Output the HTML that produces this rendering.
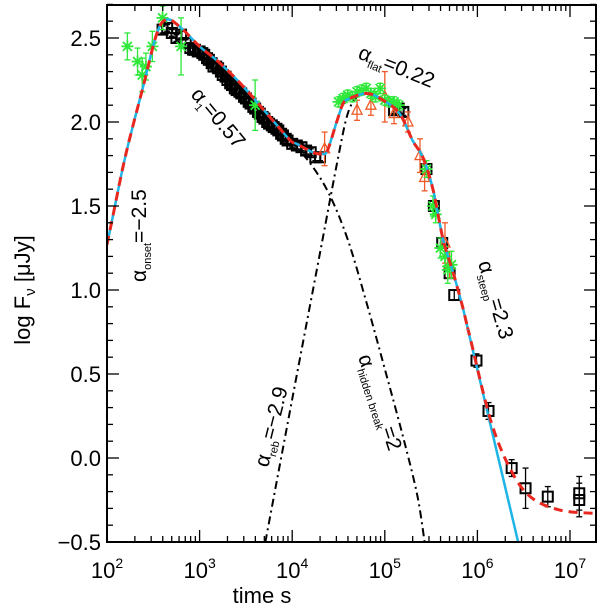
<!DOCTYPE html>
<html><head><meta charset="utf-8">
<style>
html,body{margin:0;padding:0;background:#fff;}
svg{display:block;font-family:"Liberation Sans",sans-serif;}
</style></head>
<body>
<svg id="chart" width="600" height="608" viewBox="0 0 600 608" xmlns="http://www.w3.org/2000/svg"></svg>
<script>
// ---- data (log10 t, log F) ----
const modelLogT = [2.0,2.06,2.2,2.39,2.54,2.65,2.8,3.0,3.2,3.44,3.79,3.98,4.05,4.22,4.32,4.38,4.48,4.55,4.62,4.81,4.98,5.16,5.30,5.41,5.52,5.63,5.74,5.84,5.9];
const modelF    = [1.27,1.43,1.80,2.21,2.53,2.61,2.56,2.45,2.36,2.23,2.01,1.89,1.87,1.82,1.81,1.83,2.00,2.11,2.14,2.17,2.13,2.05,1.89,1.79,1.60,1.30,1.10,0.90,0.76];
const cyanTailLogT = [5.9,6.44];
const cyanTailF    = [0.76,-0.5];
const redTailLogT = [5.9,5.92,6.14,6.35,6.57,6.89,7.28];
const redTailF    = [0.76,0.72,0.23,-0.06,-0.23,-0.31,-0.33];
const hiddenLogT = [3.98,4.2,4.4,4.6,4.8,5.0,5.2,5.35,5.43];
const hiddenF    = [1.89,1.75,1.57,1.30,0.93,0.53,0.12,-0.22,-0.5];
const rebLogT = [3.71,4.0,4.3,4.5,4.6,4.7,4.8];
const rebF    = [-0.5,0.35,1.22,1.80,2.05,2.15,2.17];
const sqLogT = [2.6,2.65,2.7,2.75,2.8,2.85,2.9,2.93,2.95,2.98,3.0,3.03,3.05,3.08,3.1,3.13,3.15,3.18,3.2,3.23,3.25,3.28,3.3,3.33,3.35,3.38,3.4,3.43,3.45,3.48,3.5,3.53,3.55,3.58,3.6,3.63,3.65,3.68,3.7,3.73,3.75,3.78,3.8,3.83,3.85,3.88,3.9,3.93,3.95,4.0,4.05,4.1,4.15,4.2,4.25,4.3,5.1,5.15,5.2,5.45,5.53,5.62,5.7,5.75,5.99,6.12,6.37,6.52,6.76,7.1,7.1];
const sqF    = [2.55,2.56,2.53,2.50,2.52,2.47,2.44,2.43,2.43,2.42,2.42,2.41,2.40,2.38,2.37,2.35,2.33,2.33,2.32,2.30,2.28,2.27,2.25,2.23,2.22,2.20,2.19,2.18,2.17,2.15,2.14,2.12,2.11,2.09,2.08,2.06,2.05,2.03,2.02,2.00,1.99,1.98,1.97,1.96,1.95,1.93,1.92,1.90,1.89,1.87,1.86,1.85,1.83,1.82,1.79,1.79,2.07,2.08,2.06,1.72,1.50,1.28,1.10,0.97,0.58,0.28,-0.06,-0.18,-0.23,-0.21,-0.25];
const sqErr  = [0.02,0.02,0.02,0.02,0.02,0.02,0.02,0.02,0.02,0.02,0.02,0.02,0.02,0.02,0.02,0.02,0.02,0.02,0.02,0.02,0.02,0.02,0.02,0.02,0.02,0.02,0.02,0.02,0.02,0.02,0.02,0.02,0.02,0.02,0.02,0.02,0.02,0.02,0.02,0.02,0.02,0.02,0.02,0.02,0.02,0.02,0.02,0.02,0.02,0.02,0.02,0.02,0.02,0.02,0.02,0.02,0.02,0.02,0.02,0.03,0.03,0.03,0.03,0.03,0.04,0.05,0.05,0.12,0.06,0.10,0.10];
const starLogT = [2.22,2.33,2.38,2.42,2.49,2.6,2.8,3.6,4.5,4.55,4.6,4.65,4.7,4.75,4.8,4.85,4.9,4.95,5.0,5.05,5.1,5.15,5.45,5.52,5.55,5.6,5.65,5.68,5.72];
const starF    = [2.45,2.36,2.28,2.33,2.45,2.62,2.45,2.10,2.12,2.14,2.16,2.15,2.18,2.19,2.20,2.17,2.15,2.20,2.13,2.12,2.12,2.10,1.72,1.50,1.45,1.25,1.20,1.12,1.15];
const starErr  = [0.08,0.08,0.10,0.08,0.09,0.07,0.17,0.15,0.03,0.03,0.03,0.03,0.03,0.03,0.03,0.03,0.03,0.03,0.03,0.03,0.03,0.03,0.05,0.06,0.05,0.06,0.06,0.08,0.08];
const triLogT = [4.35,4.7,4.85,5.0,5.1,5.25,5.38,5.43,5.65,5.7];
const triF    = [1.84,2.07,2.10,2.15,2.05,2.00,1.80,1.67,1.28,1.15];
const triErr  = [0.10,0.06,0.06,0.15,0.06,0.06,0.10,0.08,0.12,0.08];
const xTickExp = [2,3,4,5,6,7];
const yTickVals = [-0.5,0.0,0.5,1.0,1.5,2.0,2.5];
const yTickLabels = ["\u22120.5","0.0","0.5","1.0","1.5","2.0","2.5"];

// ---- axes ----
const L=107,R=596,T=5,B=542;
const xMin=2, xMax=2+(R-L)/92.6;
const yMin=-0.5, yMax=2.5+(38-T)/168;
const X=v=>L+(v-xMin)/(xMax-xMin)*(R-L);
const Y=v=>B-(v-yMin)/(yMax-yMin)*(B-T);
const NS="http://www.w3.org/2000/svg";
const svg=document.getElementById('chart');
function el(tag,attrs,parent){const e=document.createElementNS(NS,tag);for(const k in attrs)e.setAttribute(k,attrs[k]);(parent||svg).appendChild(e);return e;}

const defs=el('defs',{});
const cp=el('clipPath',{id:'clip'},defs);el('rect',{x:L,y:T,width:R-L,height:B-T},cp);
const plot=el('g',{'clip-path':'url(#clip)'});



function smoothPath(xs,ys){
  const p=xs.map((x,i)=>[X(x),Y(ys[i])]);
  let d=`M${p[0][0]},${p[0][1]}`;
  for(let i=0;i<p.length-1;i++){
    const p0=p[i-1]||p[i],p1=p[i],p2=p[i+1],p3=p[i+2]||p2;
    const c1=[p1[0]+(p2[0]-p0[0])/6,p1[1]+(p2[1]-p0[1])/6];
    const c2=[p2[0]-(p3[0]-p1[0])/6,p2[1]-(p3[1]-p1[1])/6];
    d+=` C${c1[0]},${c1[1]} ${c2[0]},${c2[1]} ${p2[0]},${p2[1]}`;
  }
  return d;
}

const hid=el('path',{d:smoothPath(hiddenLogT,hiddenF),fill:'none',stroke:'#000','stroke-width':2,'stroke-dasharray':'8 4 2 4'},plot);


const reb=el('path',{d:smoothPath(rebLogT,rebF),fill:'none',stroke:'#000','stroke-width':2,'stroke-dasharray':'8 4 2 4'},plot);



function errBar(x,y,e,color,g){
  el('line',{x1:X(x),x2:X(x),y1:Y(y+e),y2:Y(y-e),stroke:color,'stroke-width':1.3},g);
  el('line',{x1:X(x)-3,x2:X(x)+3,y1:Y(y+e),y2:Y(y+e),stroke:color,'stroke-width':1.3},g);
  el('line',{x1:X(x)-3,x2:X(x)+3,y1:Y(y-e),y2:Y(y-e),stroke:color,'stroke-width':1.3},g);
}
for(let i=0;i<sqLogT.length;i++){
  const g=el('g',{},plot);
  
  
  errBar(sqLogT[i],sqF[i],sqErr[i],'#000',g);
  el('rect',{x:X(sqLogT[i])-5,y:Y(sqF[i])-5,width:10,height:10,fill:'none',stroke:'#000','stroke-width':2},g);
}
for(let i=0;i<triLogT.length;i++){
  const g=el('g',{},plot);
  
  
  errBar(triLogT[i],triF[i],triErr[i],'#f05a28',g);
  const cx=X(triLogT[i]),cy=Y(triF[i]);
  el('polygon',{points:`${cx},${cy-6} ${cx-5},${cy+4} ${cx+5},${cy+4}`,fill:'none',stroke:'#f05a28','stroke-width':1.3},g);
}
for(let i=0;i<starLogT.length;i++){
  const g=el('g',{},plot);
  
  
  errBar(starLogT[i],starF[i],starErr[i],'#2ee83a',g);
  const cx=X(starLogT[i]),cy=Y(starF[i]);
  el('path',{d:`M${cx-6},${cy}h12M${cx},${cy-6}v12M${cx-4.5},${cy-4.5}l9,9M${cx-4.5},${cy+4.5}l9,-9`,stroke:'#2ee83a','stroke-width':1.8},g);
}

const cy1=el('path',{d:smoothPath(modelLogT,modelF),fill:'none',stroke:'#1eb4e6','stroke-width':2.5},plot);


const cy2=el('path',{d:smoothPath(cyanTailLogT,cyanTailF),fill:'none',stroke:'#1eb4e6','stroke-width':2.5},plot);


const rd1=el('path',{d:smoothPath(modelLogT,modelF),fill:'none',stroke:'#e8281e','stroke-width':3,'stroke-dasharray':'9 6'},plot);


const rd2=el('path',{d:smoothPath(redTailLogT,redTailF),fill:'none',stroke:'#e8281e','stroke-width':3,'stroke-dasharray':'9 6'},plot);



const frame=el('rect',{x:L,y:T,width:R-L,height:B-T,fill:'none',stroke:'#000','stroke-width':2});


const ticks=el('g',{stroke:'#000','stroke-width':1.3});


for(let d=2;d<=7;d++){
  for(let m=1;m<=9;m++){
    const v=d+Math.log10(m); if(v>xMax) break;
    const len=m===1?12:6, x=X(v);
    el('line',{x1:x,x2:x,y1:B,y2:B-len},ticks);
    el('line',{x1:x,x2:x,y1:T,y2:T+len},ticks);
  }
}
for(let k=-5;k<=27;k++){
  const v=k/10; const major=(k%5===0); const len=major?12:6; const y=Y(v);
  el('line',{x1:L,x2:L+len,y1:y,y2:y},ticks);
  el('line',{x1:R,x2:R-len,y1:y,y2:y},ticks);
}
xTickExp.forEach(e=>{
  const t=el('text',{x:X(e),y:578,'font-size':22,'text-anchor':'middle'});
  
  
  t.innerHTML=`10<tspan font-size="14" dy="-10">${e}</tspan>`;
});
yTickVals.forEach((v,i)=>{
  const t=el('text',{x:L-6,y:Y(v)+8,'font-size':22,'text-anchor':'end'});
  
  
  t.textContent=yTickLabels[i];
});
</script>
<svg width="600" height="608" style="position:absolute;left:0;top:0;font-family:'Liberation Sans',sans-serif">
  <text x="262" y="603" font-size="22" text-anchor="middle">time  s</text>
  <text transform="translate(30,290) rotate(-90)" font-size="22" text-anchor="middle">log  F<tspan font-size="15" dy="5">ν</tspan><tspan dy="-5">  [μJy]</tspan></text>
  <text transform="translate(146,282) rotate(-90)" font-size="21">α<tspan font-size="11" dy="5">onset</tspan><tspan dy="-5">=−2.5</tspan></text>
  <text transform="translate(190,95) rotate(50)" font-size="21">α<tspan font-size="11" dy="5">1</tspan><tspan dy="-5">=0.57</tspan></text>
  <text transform="translate(357,58) rotate(22)" font-size="21">α<tspan font-size="11" dy="5">flat</tspan><tspan dy="-5">=0.22</tspan></text>
  <text transform="translate(478,263) rotate(74)" font-size="21">α<tspan font-size="11" dy="5">steep</tspan><tspan dy="-5">=2.3</tspan></text>
  <text transform="translate(268,468) rotate(-76)" font-size="21">α<tspan font-size="11" dy="5">reb</tspan><tspan dy="-5">=−2.9</tspan></text>
  <text transform="translate(358,357) rotate(72)" font-size="21">α<tspan font-size="11" dy="5">hidden break</tspan><tspan dy="-5">=2</tspan></text>
</svg>
</body></html>
